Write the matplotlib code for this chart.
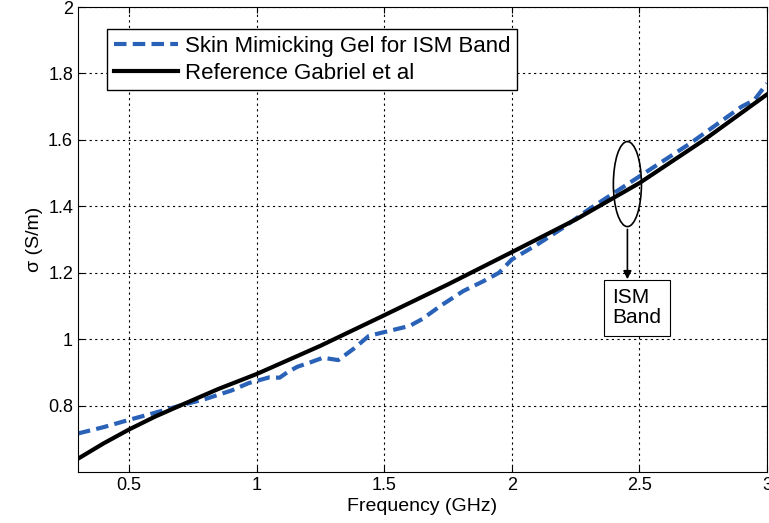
import numpy as np
import matplotlib.pyplot as plt
from matplotlib.patches import Ellipse

plt.rcParams['font.family'] = ['Liberation Sans', 'DejaVu Sans']

# Reference (Gabriel et al) conductivity
freq_ref = [0.3, 0.4, 0.5, 0.6, 0.7, 0.85, 1.0, 1.25, 1.5, 1.75, 2.0, 2.25, 2.5, 2.75, 3.0]
sigma_ref = [0.64, 0.686, 0.728, 0.766, 0.80, 0.85, 0.895, 0.98, 1.072, 1.165, 1.262,
             1.36, 1.47, 1.598, 1.737]

# Measured skin mimicking gel
freq_gel = [0.3, 0.4, 0.5, 0.6, 0.7, 0.8, 0.9, 0.97, 1.05, 1.09, 1.12, 1.16, 1.21, 1.26,
            1.32, 1.38, 1.44, 1.52, 1.60, 1.65, 1.72, 1.81, 1.89, 1.95, 2.0, 2.1,
            2.2, 2.3, 2.4, 2.5, 2.6, 2.7, 2.8, 2.9, 2.95, 3.0]
sigma_gel = [0.716, 0.735, 0.757, 0.778, 0.80, 0.82, 0.845, 0.868, 0.885, 0.884, 0.90, 0.917,
             0.93, 0.944, 0.937, 0.971, 1.01, 1.025, 1.04, 1.061, 1.10, 1.145, 1.175, 1.20,
             1.24, 1.285, 1.335, 1.39, 1.44, 1.49, 1.54, 1.59, 1.645, 1.70, 1.72, 1.77]

fig = plt.figure(figsize=(7.69, 5.23), dpi=100)
ax = fig.add_axes([0.1014, 0.0975, 0.896, 0.889])

ax.plot(freq_gel, sigma_gel, '--', color='#2a62b8', lw=3, dashes=(3, 1.5),
        label='Skin Mimicking Gel for ISM Band')
ax.plot(freq_ref, sigma_ref, '-', color='black', lw=3, label='Reference Gabriel et al')

ax.set_xlim(0.3, 3)
ax.set_ylim(0.6, 2)
ax.set_xticks([0.5, 1, 1.5, 2, 2.5, 3])
ax.set_xticklabels(['0.5', '1', '1.5', '2', '2.5', '3'])
ax.set_yticks([0.8, 1, 1.2, 1.4, 1.6, 1.8, 2])
ax.set_yticklabels(['0.8', '1', '1.2', '1.4', '1.6', '1.8', '2'])
ax.grid(True, color='black', linestyle=(0, (2, 3)), lw=0.8)
ax.tick_params(direction='in', labelsize=13, length=4, top=True, right=True)
ax.set_xlabel('Frequency (GHz)', fontsize=14, labelpad=3)
ax.set_ylabel('σ (S/m)', fontsize=14)

leg = ax.legend(loc='upper left', bbox_to_anchor=(0.042, 0.952), fontsize=16,
                fancybox=False, framealpha=1, edgecolor='black', handlelength=2.9,
                borderpad=0.3, labelspacing=0.25, handletextpad=0.3, borderaxespad=0)
leg.get_frame().set_linewidth(1)

ax.add_patch(Ellipse((2.453, 1.467), 0.11, 0.256, fill=False, color='black', lw=1.2, zorder=5))
ax.annotate('', xy=(2.453, 1.172), xytext=(2.453, 1.339),
            arrowprops=dict(arrowstyle='-|>', color='black', lw=1.2, mutation_scale=12))
ax.text(2.395, 1.095, 'ISM\nBand', fontsize=15, ha='left', va='center', linespacing=1.1,
        bbox=dict(boxstyle='square,pad=0.4', fc='white', ec='black', lw=0.8))

fig.savefig('out.png', dpi=100)
